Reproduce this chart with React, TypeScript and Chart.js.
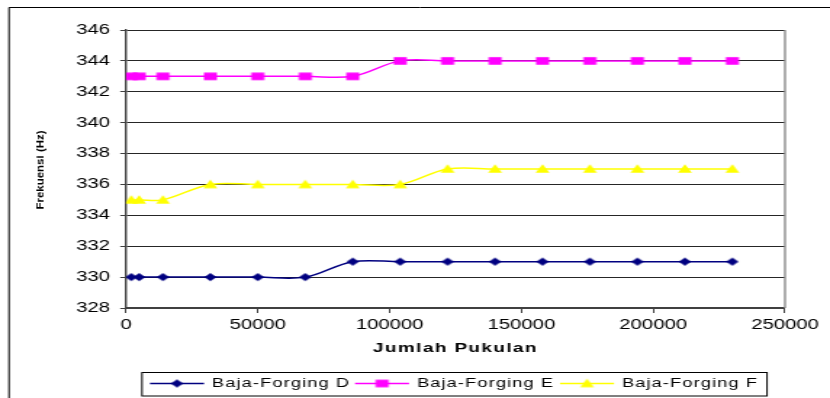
import { useEffect, useRef } from "react";
import { Chart, registerables } from "chart.js";

Chart.register(...registerables);

// Number of blows (x) and measured frequency (Hz) for each forged steel sample
const pukulan = [2000, 5000, 14000, 32000, 50000, 68000, 86000, 104000, 122000, 140000, 158000, 176000, 194000, 212000, 230000];
const forgingD = [330, 330, 330, 330, 330, 330, 331, 331, 331, 331, 331, 331, 331, 331, 331];
const forgingE = [343, 343, 343, 343, 343, 343, 343, 344, 344, 344, 344, 344, 344, 344, 344];
const forgingF = [335, 335, 335, 336, 336, 336, 336, 336, 337, 337, 337, 337, 337, 337, 337];

const seriesNames = ["Baja-Forging D", "Baja-Forging E", "Baja-Forging F"];
const seriesColors = ["#000080", "#FF00FF", "#FFFF00"];
const markerKinds = ["diamond", "square", "triangle"];

const xTitle = "Jumlah Pukulan";
const yTitle = "Frekuensi (Hz)";
const xMin = 0, xMax = 250000, xStep = 50000;
const yMin = 328, yMax = 346, yStep = 2;

// The drawing is made on a narrower canvas and widened by CSS
const VIEW_W = 830;
const VIEW_H = 398;
const CANVAS_W = 572;
const S = VIEW_W / CANVAS_W;
const FONT = "Arial, 'Liberation Sans', sans-serif";

function makeMarker(kind: string, color: string): HTMLCanvasElement {
  const c = document.createElement("canvas");
  c.width = 12;
  c.height = 12;
  const g = c.getContext("2d")!;
  g.fillStyle = color;
  g.beginPath();
  if (kind === "diamond") {
    g.moveTo(6, 2);
    g.lineTo(10.3, 6);
    g.lineTo(6, 10);
    g.lineTo(1.7, 6);
  } else if (kind === "square") {
    g.rect(1.5, 2.2, 9, 7.6);
  } else {
    g.moveTo(6, 1.2);
    g.lineTo(10.8, 9.8);
    g.lineTo(1.2, 9.8);
  }
  g.closePath();
  g.fill();
  return c;
}

export default function App() {
  const canvasRef = useRef<HTMLCanvasElement | null>(null);

  useEffect(() => {
    document.body.style.margin = "0";
    const canvas = canvasRef.current;
    if (!canvas) return;

    const markers = seriesColors.map((c, i) => makeMarker(markerKinds[i], c));
    const values = [forgingD, forgingE, forgingF];

    const decor = {
      id: "decor",
      beforeDraw(chart: any) {
        const ctx = chart.ctx;
        ctx.save();
        ctx.fillStyle = "#ffffff";
        ctx.fillRect(0, 0, chart.width, chart.height);
        // outer chart frame
        ctx.strokeStyle = "#000000";
        ctx.lineWidth = 1;
        ctx.beginPath();
        ctx.moveTo(9 / S, VIEW_H + 5);
        ctx.lineTo(9 / S, 7.5);
        ctx.lineTo(chart.width + 5, 7.5);
        ctx.stroke();
        ctx.restore();
      },
      beforeDatasetsDraw(chart: any) {
        const { ctx, chartArea } = chart;
        ctx.save();
        ctx.strokeStyle = "#8c8c8c";
        ctx.lineWidth = 1.4;
        ctx.beginPath();
        ctx.moveTo(chartArea.right, chartArea.top);
        ctx.lineTo(chartArea.right, chartArea.bottom);
        ctx.stroke();
        ctx.restore();
      },
      afterDraw(chart: any) {
        const { ctx, chartArea } = chart;
        ctx.save();
        ctx.fillStyle = "#000000";

        // x axis title
        ctx.font = `bold 13px ${FONT}`;
        (ctx as any).letterSpacing = "1px";
        ctx.textAlign = "center";
        ctx.textBaseline = "middle";
        ctx.fillText(xTitle, (chartArea.left + chartArea.right) / 2, 348);

        // y axis title (rotated, condensed)
        (ctx as any).letterSpacing = "0px";
        ctx.save();
        ctx.translate(41 / S, 170);
        ctx.rotate(-Math.PI / 2);
        ctx.scale(1, 0.6);
        ctx.font = `bold 11.5px ${FONT}`;
        ctx.fillText(yTitle, 0, 0);
        ctx.restore();

        // legend box
        ctx.strokeStyle = "#000000";
        ctx.lineWidth = 1;
        ctx.strokeRect(142 / S, 372.5, (767 - 142) / S, 23.5);
        const starts = [150, 355, 560];
        const ly = 383.5;
        chart.data.datasets.forEach((ds: any, i: number) => {
          const x0 = starts[i];
          ctx.strokeStyle = ds.borderColor;
          ctx.lineWidth = 1.5;
          ctx.beginPath();
          ctx.moveTo(x0 / S, ly);
          ctx.lineTo((x0 + 54) / S, ly);
          ctx.stroke();
          const m = markers[i];
          ctx.drawImage(m, (x0 + 27) / S - m.width / 2, ly - m.height / 2);
          ctx.font = `12.5px ${FONT}`;
          (ctx as any).letterSpacing = "0.8px";
          ctx.textAlign = "left";
          ctx.fillStyle = "#000000";
          ctx.fillText(ds.label, (x0 + 62) / S, ly);
          (ctx as any).letterSpacing = "0px";
        });
        ctx.restore();
      },
    };

    const chart = new Chart(canvas, {
      type: "line",
      data: {
        datasets: values.map((arr, i) => ({
          label: seriesNames[i],
          data: pukulan.map((x, k) => ({ x, y: arr[k] })),
          borderColor: seriesColors[i],
          backgroundColor: seriesColors[i],
          borderWidth: 1.5,
          tension: 0.35,
          pointStyle: markers[i] as any,
          pointRadius: 4,
          fill: false,
        })),
      },
      options: {
        responsive: false,
        animation: false,
        devicePixelRatio: 1,
        events: [],
        layout: { padding: { left: 0, top: 30, right: CANVAS_W - 785 / S, bottom: 0 } },
        plugins: {
          legend: { display: false },
          tooltip: { enabled: false },
        },
        scales: {
          x: {
            type: "linear",
            min: xMin,
            max: xMax,
            afterFit: (scale: any) => {
              scale.height = VIEW_H - 308;
            },
            ticks: {
              stepSize: xStep,
              color: "#000000",
              font: { family: FONT, size: 14 },
              padding: 4,
              maxRotation: 0,
              callback: (v: any) => String(v),
            },
            grid: {
              drawOnChartArea: false,
              drawTicks: true,
              tickLength: 5,
              color: "#404040",
              lineWidth: 1,
            },
            border: { color: "#404040", width: 2 },
          },
          y: {
            type: "linear",
            min: yMin,
            max: yMax,
            afterFit: (scale: any) => {
              scale.width = 126 / S;
            },
            ticks: {
              stepSize: yStep,
              color: "#000000",
              font: { family: FONT, size: 14 },
              padding: 7,
              callback: (v: any) => String(v),
            },
            grid: {
              color: "#262626",
              lineWidth: 1,
              drawTicks: true,
              tickLength: 4,
              tickColor: "#404040",
            },
            border: { color: "#404040", width: 1.4 },
          },
        },
      },
      plugins: [decor],
    });

    return () => {
      chart.destroy();
    };
  }, []);

  return (
    <div style={{ width: VIEW_W, height: VIEW_H }}>
      <canvas
        ref={canvasRef}
        width={CANVAS_W}
        height={VIEW_H}
        style={{ width: `${VIEW_W}px`, height: `${VIEW_H}px`, display: "block" }}
      />
    </div>
  );
}
